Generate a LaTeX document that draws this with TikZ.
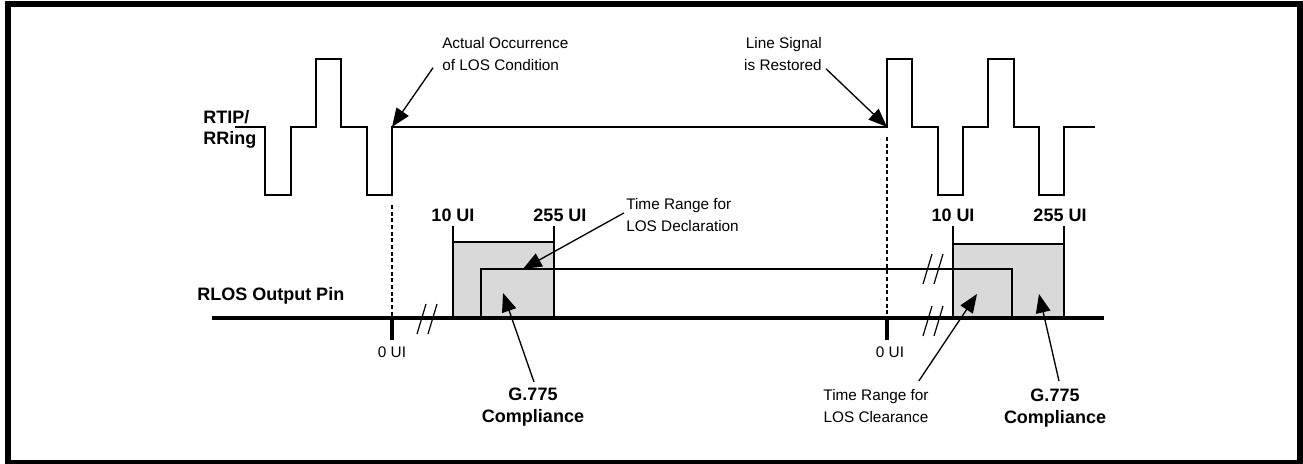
\documentclass[tikz,border=0pt]{standalone}
\usepackage{fontspec}
\setmainfont{Liberation Sans}
\usetikzlibrary{arrows.meta}
\definecolor{BoxGray}{HTML}{D9D9D9}
\tikzset{
  wave/.style     = {line width=1.3pt},
  pinline/.style  = {line width=2.7pt},
  thinln/.style   = {line width=0.9pt},
  guide/.style    = {line width=0.8pt, dash pattern=on 3pt off 2pt},
  flecha/.style   = {-{Triangle[length=14pt,width=11pt]}, line width=1pt},
  rangebox/.style = {draw, line width=0.9pt, fill=BoxGray},
  nota/.style     = {font=\fontsize{11.5}{16.5}\selectfont, inner sep=0pt},
  tagtxt/.style   = {font=\fontsize{13.5}{16}\selectfont\bfseries, inner sep=0pt},
}
% double slash over a line, centred at (#1,#2)
\newcommand{\brkmark}[2]{%
  \draw[thinln, shift={(#1,#2)}] (-10,15) -- (-1,-15) (1,15) -- (10,-15);}

\begin{document}
\begin{tikzpicture}[x=0.75pt, y=-0.75pt]
  \useasboundingbox (0,0) rectangle (1303,464);
  \draw[line width=4.5pt] (8,4) rectangle (1300,463);

  % received signal
  \draw[wave] (235,127) -- (265,127) -- (265,195) -- (291,195) -- (291,127)
    -- (316,127) -- (316,59) -- (341,59) -- (341,127) -- (367,127)
    -- (367,195) -- (392,195) -- (392,127) -- (887,127) -- (887,59)
    -- (912,59) -- (912,127) -- (938,127) -- (938,195) -- (963,195)
    -- (963,127) -- (988,127) -- (988,59) -- (1014,59) -- (1014,127)
    -- (1039,127) -- (1039,195) -- (1064,195) -- (1064,127) -- (1095,127);
  \coordinate (losTip) at (392,127);
  \coordinate (restTip) at (887,127);

  % time ranges
  \draw[rangebox] (453,318) rectangle (554,242);
  \draw[rangebox] (953,318) rectangle (1064,244);
  \draw[thinln] (481,318) -- (481,269) -- (1012,269) -- (1012,318);
  \draw[thinln] (453,226) -- (453,242) (554,226) -- (554,242);
  \draw[thinln] (953,226) -- (953,244) (1064,226) -- (1064,244);

  % RLOS pin
  \draw[guide] (392,205) -- (392,318);
  \draw[guide] (887,137) -- (887,318);
  \draw[pinline] (212,318) -- (1104,318);
  \draw[pinline] (392,318) -- (392,340) (887,318) -- (887,340);
  \brkmark{427}{319}
  \brkmark{933}{269}
  \brkmark{933}{321}

  \coordinate (declTip) at (523,269);
  \coordinate (g1Tip) at (503,293);
  \coordinate (clrTip) at (977,294);
  \coordinate (g2Tip) at (1039,294);

  % labels
  \node[tagtxt, align=left, anchor=north west] (rtip) at (203,110) {RTIP/\\RRing};
  \node[tagtxt, anchor=base west] (rlos) at (197,300) {RLOS Output Pin};
  \node[nota, align=left, anchor=north west] (losTxt) at (442,37)
    {Actual Occurrence\\of LOS Condition};
  \node[nota, align=right, anchor=north east] (restTxt) at (822,37)
    {Line Signal\\is Restored};
  \node[tagtxt, anchor=base] (ui10a) at (453,221) {10 UI};
  \node[tagtxt, anchor=base] (ui255a) at (560,221) {255 UI};
  \node[tagtxt, anchor=base] (ui10b) at (953,221) {10 UI};
  \node[tagtxt, anchor=base] (ui255b) at (1060,221) {255 UI};
  \node[nota, anchor=base] (ui0a) at (392,357) {0 UI};
  \node[nota, anchor=base] (ui0b) at (890,357) {0 UI};
  \node[nota, align=left, anchor=north west] (declTxt) at (626,198)
    {Time Range for\\LOS Declaration};
  \node[nota, align=center, anchor=north] (clrTxt) at (876,389)
    {Time Range for\\LOS Clearance};
  \node[tagtxt, align=center, anchor=north] (g1) at (533,388) {G.775\\Compliance};
  \node[tagtxt, align=center, anchor=north] (g2) at (1055,389) {G.775\\Compliance};

  % arrows
  \draw[flecha] ([shift={(-9,-3)}]losTxt.south west) -- (losTip);
  \draw[flecha] ([shift={(4,-2)}]restTxt.south east) -- (restTip);
  \draw[flecha] ([shift={(-2,-2)}]declTxt.west) -- (declTip);
  \draw[flecha] ([shift={(1,-6)}]g1.north) -- (g1Tip);
  \draw[flecha] ([shift={(-10,-8)}]clrTxt.north east) -- (clrTip);
  \draw[flecha] ([shift={(4,-8)}]g2.north) -- (g2Tip);
\end{tikzpicture}
\end{document}
